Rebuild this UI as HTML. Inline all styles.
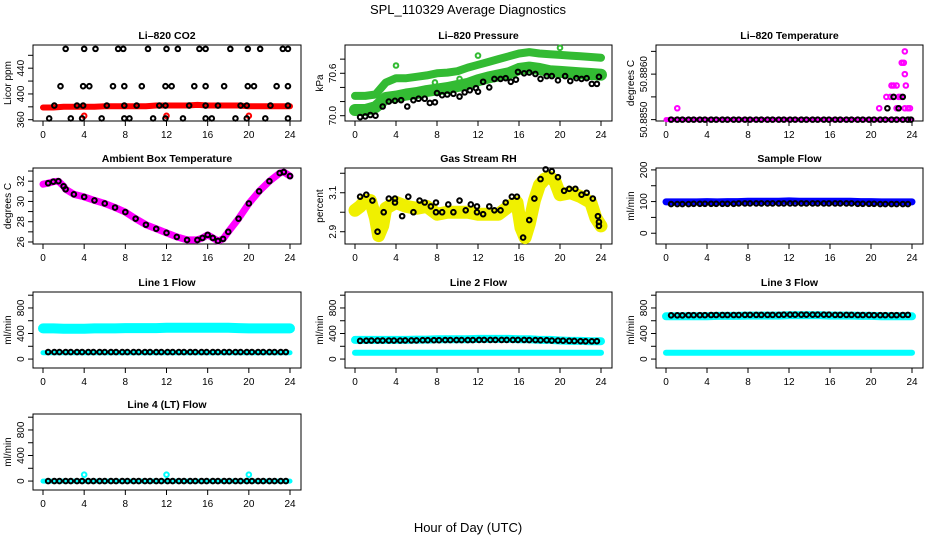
<!DOCTYPE html>
<html><head><meta charset="utf-8">
<style>
html,body{margin:0;padding:0;background:#fff;}
svg{display:block;font-family:"Liberation Sans",sans-serif;}
</style></head>
<body>
<svg id="chart" width="936" height="540" viewBox="0 0 936 540">
<text x="468" y="14" text-anchor="middle" font-size="13">SPL_110329  Average Diagnostics</text>
<text x="468" y="532" text-anchor="middle" font-size="13">Hour of Day (UTC)</text>
</svg>
<script>
// ---- data ----
const bandHours = [0,1,2,3,4,5,6,7,8,9,10,11,12,13,14,15,16,17,18,19,20,21,22,23,24];
const blackHours = [0.5,1.1,1.6,2.2,2.7,3.3,3.8,4.4,4.9,5.5,6.0,6.6,7.1,7.7,8.2,8.8,9.3,9.9,10.4,11.0,11.5,12.1,12.6,13.2,13.7,14.3,14.8,15.4,15.9,16.5,17.0,17.6,18.1,18.7,19.2,19.8,20.3,20.9,21.4,22.0,22.5,23.1,23.6];

const co2Red = [379,379,380,380,380,380,381,381,381,381,381,382,382,382,382,383,382,382,382,382,381,381,381,381,381];
const co2BlackHours = [2.2,4,5.1,7.3,7.8,10.2,12,13.1,15.2,15.8,18.2,19.9,21.1,23.3,23.8, 1.7,3.9,4.5,6.8,7.9,9.6,11.9,12.5,14.7,15.8,17.6,19.9,20.5,22.7,23.8, 1.1,3.3,3.9,6.2,7.9,9.1,11.3,11.9,14.2,15.8,17,19.2,19.8,22.1,23.8, 0.6,2.7,3.8,5.7,7.9,8.4,10.7,11.9,13.6,15.8,16.4,18.7,19.8,21.6,23.8];
const co2BlackVals = [470,470,470,470,470,470,470,470,470,470,470,470,470,470,470, 412,412,412,412,412,412,412,412,412,412,412,412,412,412,412, 382,382,382,382,382,382,382,382,382,382,382,382,382,382,382, 362,362,362,362,362,362,362,362,362,362,362,362,362,362,362];
const co2RedPtHours = [4,12,20];
const co2RedPtVals = [366,366,366];

const presUpper = [70.28,70.28,70.30,70.47,70.53,70.53,70.55,70.57,70.60,70.61,70.63,70.68,70.72,70.76,70.80,70.84,70.88,70.90,70.88,70.87,70.86,70.85,70.84,70.83,70.82];
const presLower = [70.08,70.08,70.12,70.25,70.27,70.30,70.32,70.35,70.37,70.39,70.42,70.45,70.50,70.54,70.57,70.60,70.66,70.68,70.66,70.63,70.62,70.61,70.60,70.59,70.58];
const presBlackHours = [0.5,1,1.5,2,2.7,3.3,3.9,4.5,5.1,5.7,6.2,6.8,7.3,7.8,8,8.5,9,9.6,10.2,10.7,11.2,11.8,12,12.5,13.1,13.6,14.2,14.7,15.2,15.7,15.9,16.5,17,17.6,18.1,18.7,19.2,19.8,20.5,21,21.6,22.1,22.6,23.1,23.6,23.8];
const presBlackVals = [69.98,69.99,70.01,70.0,70.13,70.20,70.21,70.22,70.13,70.22,70.24,70.24,70.18,70.19,70.32,70.29,70.30,70.31,70.27,70.33,70.36,70.39,70.34,70.48,70.40,70.52,70.52,70.53,70.48,70.51,70.62,70.60,70.61,70.59,70.52,70.56,70.56,70.50,70.56,70.49,70.53,70.52,70.53,70.45,70.45,70.55];
const presGreenHours = [4,12,20,15.2,13.1,10.2,18,23.2,7.8];
const presGreenVals = [70.71,70.85,70.96,70.63,70.58,70.52,70.63,70.57,70.47];

const tempBase = [50.885,50.885,50.885,50.885,50.885,50.885,50.885,50.885,50.885,50.885,50.885,50.885,50.885,50.885,50.885,50.885,50.885,50.885,50.885,50.885,50.885,50.885,50.885,50.885,50.885];
const tempMagHours = [1.1,20.8,21.5,22,22.2,22.5,22.2,22.7,22.9,23.0,23.2,23.3,23.3,23.4,23.3,23.6,23.8,22.5,21.9];
const tempMagVals = [50.88525,50.88525,50.8855,50.88575,50.88575,50.88575,50.8855,50.8855,50.8855,50.88625,50.88625,50.8865,50.8860,50.88575,50.88525,50.88525,50.88525,50.88525,50.8855];
const tempBlkHours = [21.6,22.2,22.7,23.1,23.9];
const tempBlkVals = [50.88525,50.8855,50.88525,50.8855,50.885];
const tempBaseBlack = [50.885,50.885,50.885,50.885,50.885,50.885,50.885,50.885,50.885,50.885,50.885,50.885,50.885,50.885,50.885,50.885,50.885,50.885,50.885,50.885,50.885,50.885,50.885,50.885,50.885,50.885,50.885,50.885,50.885,50.885,50.885,50.885,50.885,50.885,50.885,50.885,50.885,50.885,50.885,50.885,50.885,50.885,50.885];

const ambHours = [0,0.5,1,1.5,2,2.2,3,4,5,6,7,8,9,10,11,12,13,14,15,15.5,16,16.5,17,17.5,18,19,20,21,22,23,23.4,24];
const ambVals = [31.7,31.8,31.95,32.0,31.5,31.2,30.7,30.45,30.1,29.8,29.4,28.95,28.3,27.7,27.3,26.9,26.5,26.2,26.2,26.4,26.7,26.4,26.1,26.3,27.0,28.3,29.8,31.0,32.0,32.8,32.9,32.5];

const rhHours = [0,0.5,1,1.5,2,2.3,2.7,3,4,5,6,7,8,9,10,11,12,13,14,15,15.8,16.2,16.6,17,17.5,18,18.5,19,19.5,20,21,22,23,23.5,24];
const rhVals = [3.01,3.03,3.06,3.06,2.97,2.88,2.93,3.02,3.05,3.03,3.02,3.03,2.99,3.0,3.0,3.0,2.99,2.99,2.99,3.03,3.05,2.92,2.87,2.94,3.06,3.14,3.17,3.18,3.16,3.09,3.1,3.08,3.05,2.97,2.93];
const rhBlackHours = [0.5,1.1,1.7,2.2,2.8,3.3,3.9,3.9,4.6,5.2,5.7,6.3,6.8,7.4,7.9,7.9,8.5,9.1,9.6,10.2,10.8,11.3,11.9,11.9,12.5,13.1,13.6,14.2,14.7,15.3,15.8,16.4,17,17.5,18.1,18.6,19.2,19.8,20.4,20.9,21.5,22.1,22.6,23.2,23.7,23.8,23.8];
const rhBlackVals = [3.08,3.09,3.06,2.90,3.0,3.07,3.07,3.05,2.98,3.08,3.0,3.06,3.05,3.03,3.05,3.0,3.0,3.04,3.0,3.06,3.01,3.04,3.03,3.0,2.99,3.03,3.01,3.01,3.05,3.08,3.08,2.87,2.96,3.07,3.17,3.22,3.21,3.18,3.11,3.12,3.12,3.09,3.1,3.07,2.98,2.95,2.93];

const sampBlue = [99,99,99,99,100,99,100,100,101,101,101,101,102,101,101,101,101,101,101,100,100,99,99,99,99];
const sampBlack = [92,92,92,92,93,93,93,93,93,93,93,93,94,94,94,94,94,94,94,94,94,94,94,94,94,94,94,94,94,94,94,94,94,93,93,93,93,92,92,92,92,92,92];

const l1Cyan = [480,480,475,475,475,480,480,480,485,485,485,485,490,490,490,490,490,490,490,485,480,480,480,480,480];
const l1CyanLow = [100,100,100,100,100,100,100,100,100,100,100,100,100,100,100,100,100,100,100,100,100,100,100,100,100];
const l1Black = [110,110,110,110,110,110,110,110,110,110,110,110,110,110,110,110,110,110,110,110,110,110,110,110,110,110,110,110,110,110,110,110,110,110,110,110,110,110,110,110,110,110,110];

const l2Cyan = [300,300,300,300,300,300,305,305,310,310,310,310,315,315,315,315,310,310,300,300,290,285,285,280,280];
const l2CyanLow = [100,100,100,100,100,100,100,100,100,100,100,100,100,100,100,100,100,100,100,100,100,100,100,100,100];
const l2Black = [285,288,290,290,290,290,290,290,292,292,292,295,295,295,295,298,298,298,298,298,298,300,300,300,300,300,300,300,300,300,298,298,295,295,290,290,288,285,283,280,278,278,280];

const l3Cyan = [670,670,670,670,670,675,675,675,680,680,680,680,685,685,685,685,680,680,680,675,675,670,670,670,670];
const l3CyanLow = [100,100,100,100,100,100,100,100,100,100,100,100,100,100,100,100,100,100,100,100,100,100,100,100,100];
const l3Black = [685,685,685,688,688,688,688,690,690,690,690,690,690,692,692,692,692,692,692,692,695,695,695,695,695,695,695,695,695,692,692,692,692,690,690,690,688,688,688,688,688,690,692];

const l4Cyan = [0,0,0,0,0,0,0,0,0,0,0,0,0,0,0,0,0,0,0,0,0,0,0,0,0];
const l4CyanOutHours = [4,12,20];
const l4CyanOutVals = [100,100,100];
const l4Black = [0,0,0,0,0,0,0,0,0,0,0,0,0,0,0,0,0,0,0,0,0,0,0,0,0,0,0,0,0,0,0,0,0,0,0,0,0,0,0,0,0,0,0];

const xTicks = [0,4,8,12,16,20,24];

// ---- layout ----
const NS = "http://www.w3.org/2000/svg";
const svg = document.getElementById('chart');
const cols = [[33,301],[345,612],[656,923]];
const rows = [45,168,292,414];
const BOXH = 76;

function mk(tag, attrs, parent){
  const e = document.createElementNS(NS, tag);
  for (const k in attrs) e.setAttribute(k, attrs[k]);
  (parent||svg).appendChild(e);
  return e;
}

function panel(name, title, ylab, col, row, ymin, ymax, yticks, ylabels){
  const [L,R] = cols[col];
  const T = rows[row], B = T + BOXH;
  const g = mk('g', {});
  
  
  const xs = h => (L+10) + h*((R-11)-(L+10))/24;
  const ys = v => B - (v-ymin)/(ymax-ymin)*BOXH;
  const box = mk('rect', {x:L, y:T, width:R-L, height:BOXH, fill:'none', stroke:'#000', 'stroke-width':1}, g);
  
  
  const tt = mk('text', {x:(L+R)/2, y:T-6, 'text-anchor':'middle', 'font-size':10.5, 'font-weight':'bold'}, g);
  tt.textContent = title;
  
  
  const xa = mk('g', {}, g);
  
  
  xTicks.forEach(t => {
    mk('line', {x1:xs(t), x2:xs(t), y1:B, y2:B+5, stroke:'#000'}, xa);
    const tx = mk('text', {x:xs(t), y:B+17, 'text-anchor':'middle', 'font-size':10}, xa);
    tx.textContent = t;
  });
  const ya = mk('g', {}, g);
  
  
  yticks.forEach(t => {
    mk('line', {x1:L-5, x2:L, y1:ys(t), y2:ys(t), stroke:'#000'}, ya);
  });
  ylabels.forEach(t => {
    const yy = ys(parseFloat(t));
    const tx = mk('text', {x:L-9, y:yy, 'text-anchor':'middle', 'font-size':10, transform:`rotate(-90 ${L-9} ${yy})`}, ya);
    tx.textContent = t;
  });
  const yl = mk('text', {x:L-22, y:(T+B)/2, 'text-anchor':'middle', 'font-size':10, transform:`rotate(-90 ${L-22} ${(T+B)/2})`}, g);
  yl.textContent = ylab;
  
  
  const marks = mk('g', {}, g);
  return {xs, ys, g:marks};
}

function band(p, hours, vals, color, width, nm){
  const pts = hours.map((h,i)=>p.xs(h).toFixed(1)+','+p.ys(vals[i]).toFixed(1)).join(' ');
  const pl = mk('polyline', {points:pts, fill:'none', stroke:color, 'stroke-width':width, 'stroke-linejoin':'round', 'stroke-linecap':'round'}, p.g);
  
  
}
function dots(p, hours, vals, color, nm){
  hours.forEach((h,i)=>{
    const c = mk('circle', {cx:p.xs(h), cy:p.ys(vals[i]), r:2.3, fill:'none', stroke:color, 'stroke-width':2}, p.g);
    
    
  });
}

const CY = '#00ffff';
const GR = '#33bb33';
let p;
p = panel('co2', 'Li\u2013820 CO2', 'Licor ppm', 0, 0, 358, 476, [360,380,400,420,440,460], ['360','400','440']);
band(p, bandHours, co2Red, '#ff0000', 6, 'co2-red-band');
dots(p, co2RedPtHours, co2RedPtVals, '#ff0000', 'co2-red-point');
dots(p, co2BlackHours, co2BlackVals, '#000', 'co2-black-point');

p = panel('pressure', 'Li\u2013820 Pressure', 'kPa', 1, 0, 69.925, 71.0, [70.0,70.2,70.4,70.6,70.8], ['70.0','70.6']);
band(p, bandHours, presUpper, GR, 8, 'pressure-upper-band');
band(p, bandHours, presLower, GR, 12, 'pressure-lower-band');
dots(p, presGreenHours, presGreenVals, GR, 'pressure-green-point');
dots(p, presBlackHours, presBlackVals, '#000', 'pressure-black-point');

p = panel('temperature', 'Li\u2013820 Temperature', 'degrees C', 2, 0, 50.88497, 50.88664, [50.885,50.8855,50.886,50.8865], ['50.8850','50.8860']);
band(p, bandHours, tempBase, '#ff00ff', 5, 'temperature-magenta-band');
dots(p, tempMagHours, tempMagVals, '#ff00ff', 'temperature-magenta-point');
dots(p, blackHours, tempBaseBlack, '#000', 'temperature-black-point');
dots(p, tempBlkHours, tempBlkVals, '#000', 'temperature-black-point');

p = panel('ambient', 'Ambient Box Temperature', 'degrees C', 0, 1, 25.8, 33.3, [26,27,28,29,30,31,32,33], ['26','28','30','32']);
band(p, ambHours, ambVals, '#ff00ff', 7, 'ambient-magenta-band');
dots(p, ambHours.slice(1), ambVals.slice(1), '#000', 'ambient-black-point');

p = panel('rh', 'Gas Stream RH', 'percent', 1, 1, 2.837, 3.227, [2.9,3.0,3.1,3.2], ['2.9','3.1']);
band(p, rhHours, rhVals, '#f0f000', 13, 'rh-yellow-band');
dots(p, rhBlackHours, rhBlackVals, '#000', 'rh-black-point');

p = panel('sample-flow', 'Sample Flow', 'ml/min', 2, 1, -34, 206, [0,50,100,150,200], ['0','100','200']);
band(p, bandHours, sampBlue, '#0000ff', 7, 'sample-flow-blue-band');
dots(p, blackHours, sampBlack, '#000', 'sample-flow-black-point');

p = panel('line1-flow', 'Line 1 Flow', 'ml/min', 0, 2, -140, 1050, [0,200,400,600,800,1000], ['0','400','800']);
band(p, bandHours, l1Cyan, CY, 10, 'line1-cyan-band');
band(p, bandHours, l1CyanLow, CY, 5, 'line1-cyan-low-band');
dots(p, blackHours, l1Black, '#000', 'line1-black-point');

p = panel('line2-flow', 'Line 2 Flow', 'ml/min', 1, 2, -140, 1050, [0,200,400,600,800,1000], ['0','400','800']);
band(p, bandHours, l2Cyan, CY, 8, 'line2-cyan-band');
band(p, bandHours, l2CyanLow, CY, 6, 'line2-cyan-low-band');
dots(p, blackHours, l2Black, '#000', 'line2-black-point');

p = panel('line3-flow', 'Line 3 Flow', 'ml/min', 2, 2, -140, 1050, [0,200,400,600,800,1000], ['0','400','800']);
band(p, bandHours, l3Cyan, CY, 8, 'line3-cyan-band');
band(p, bandHours, l3CyanLow, CY, 6, 'line3-cyan-low-band');
dots(p, blackHours, l3Black, '#000', 'line3-black-point');

p = panel('line4-flow', 'Line 4 (LT) Flow', 'ml/min', 0, 3, -140, 1050, [0,200,400,600,800,1000], ['0','400','800']);
band(p, bandHours, l4Cyan, CY, 5, 'line4-cyan-band');
dots(p, l4CyanOutHours, l4CyanOutVals, CY, 'line4-cyan-point');
dots(p, blackHours, l4Black, '#000', 'line4-black-point');
</script>
</body></html>
